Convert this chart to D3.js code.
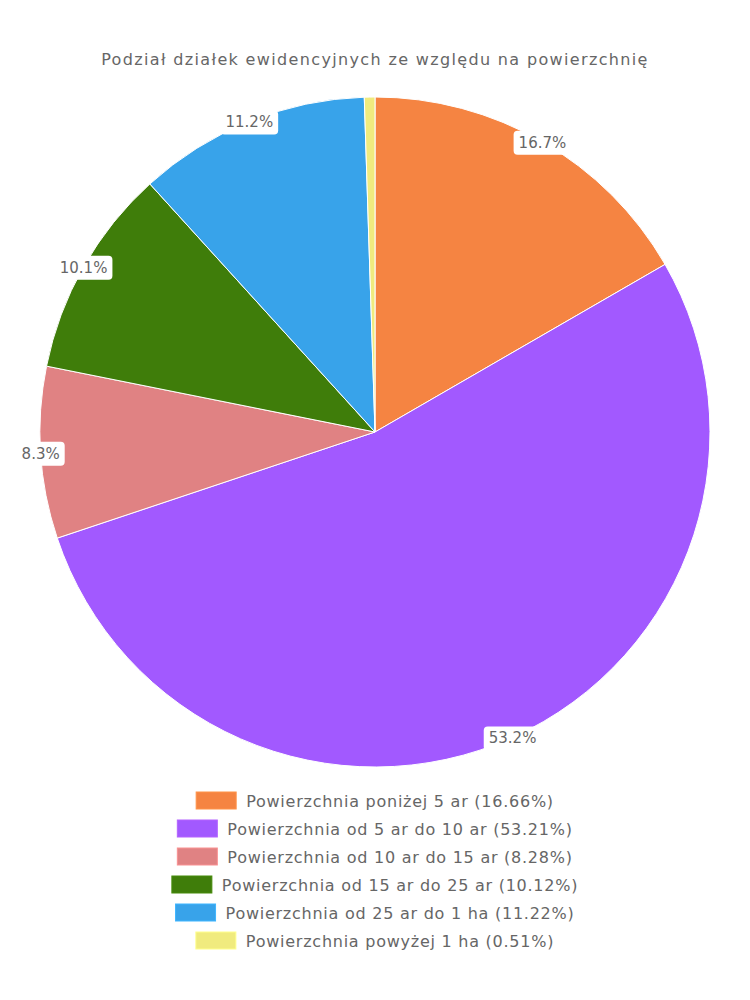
<!DOCTYPE html>
<html><head><meta charset="utf-8">
<script src="https://cdn.jsdelivr.net/npm/d3@7/dist/d3.min.js"></script>
<style>body{margin:0;background:#fff;} text{font-family:"DejaVu Sans",sans-serif;}</style>
</head><body>
<svg id="c" width="750" height="1000"></svg>
<script>
const title = "Podział działek ewidencyjnych ze względu na powierzchnię";
const categories = [
  "Powierzchnia poniżej 5 ar",
  "Powierzchnia od 5 ar do 10 ar",
  "Powierzchnia od 10 ar do 15 ar",
  "Powierzchnia od 15 ar do 25 ar",
  "Powierzchnia od 25 ar do 1 ha",
  "Powierzchnia powyżej 1 ha"
];
const values = [16.66, 53.21, 8.28, 10.12, 11.22, 0.51];
const colors = ["#F58442", "#A259FF", "#E08283", "#3F7D0A", "#38A3EA", "#F0EB7E"];
const showLabel = [true, true, true, true, true, false];

const svg = d3.select("#c");
const W = 750, cx = 375, cy = 432, R = 335;

svg.append("text").attr("x", W/2).attr("y", 60).attr("text-anchor","middle")
  .attr("dominant-baseline","middle").attr("fill","#666").attr("font-size",16)
  .attr("letter-spacing", "1.35px").text(title);

const pie = d3.pie().sort(null).value(d => d)(values);
const arc = d3.arc().innerRadius(0).outerRadius(R);
const g = svg.append("g").attr("transform", `translate(${cx},${cy})`);
g.selectAll("path").data(pie).join("path")
  .attr("d", arc).attr("fill", (d,i) => colors[i])
  .attr("stroke", "#fff").attr("stroke-width", 1);

const total = d3.sum(values);
const lg = g.append("g");
pie.forEach((d, i) => {
  if (!showLabel[i]) return;
  const a = (d.startAngle + d.endAngle)/2;
  const x = Math.sin(a)*R, y = -Math.cos(a)*R;
  const txt = (values[i]/total*100).toFixed(1) + "%";
  const t = lg.append("text").attr("x", x).attr("y", y + 1).attr("text-anchor","middle")
    .attr("dominant-baseline","central").attr("fill","#666").attr("font-size",15).text(txt);
  const w = t.node().getComputedTextLength();
  lg.insert("rect", () => t.node()).attr("x", x - w/2 - 5).attr("y", y - 11)
    .attr("width", w + 10).attr("height", 24).attr("rx", 4).attr("fill", "#fff");
});

const legendY0 = 800, legendStep = 28;
categories.forEach((c, i) => {
  const y = legendY0 + i*legendStep;
  const row = svg.append("g");
  const t = row.append("text").attr("y", y + 1).attr("dominant-baseline","central")
    .attr("fill","#666").attr("font-size",16).attr("letter-spacing","0.75px")
    .text(`${c} (${values[i].toFixed(2)}%)`);
  const tw = t.node().getComputedTextLength();
  const total = 40 + 10 + tw;
  const x0 = W/2 - total/2;
  row.append("rect").attr("x", x0).attr("y", y - 8).attr("width", 40).attr("height", 17)
    .attr("fill", colors[i]).attr("stroke", d3.color(colors[i]).brighter(0.3)).attr("stroke-width", 1);
  t.attr("x", x0 + 50);
});
</script>
</body></html>
